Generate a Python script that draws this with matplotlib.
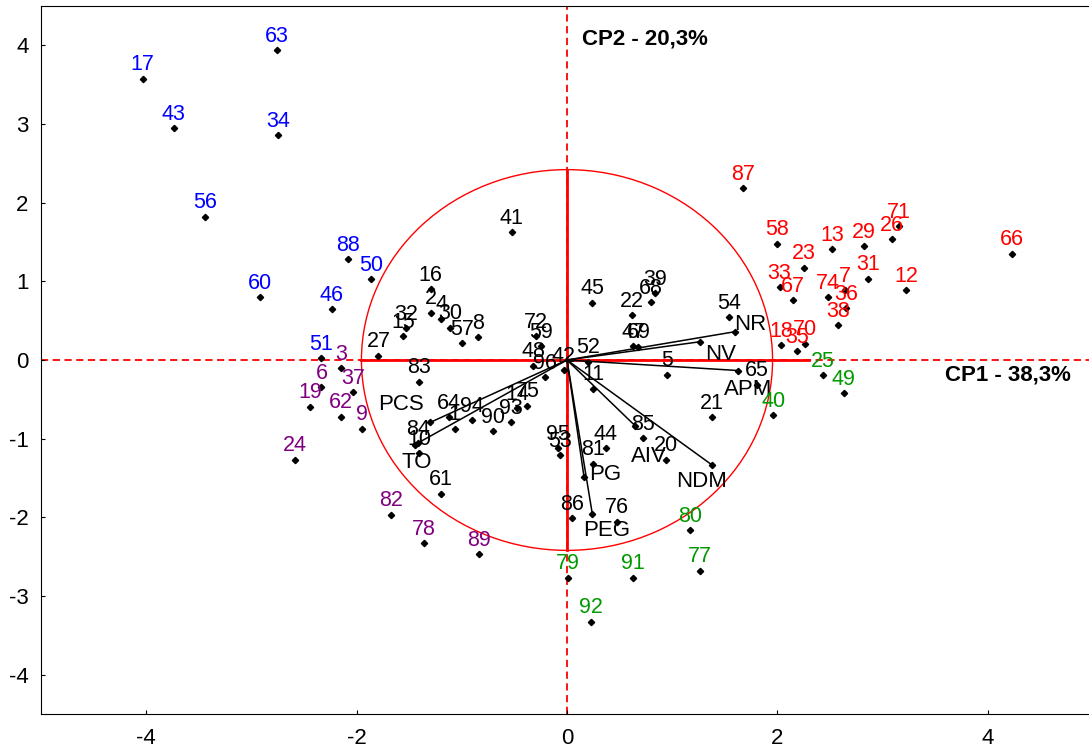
import matplotlib
matplotlib.use("Agg")
import matplotlib.pyplot as plt
from matplotlib.patches import Ellipse

plt.rcParams["font.family"] = ["Liberation Sans", "DejaVu Sans"]
plt.rcParams["axes.unicode_minus"] = False

# Observações por grupo (rótulo, CP1, CP2)
blue_labels = ["17", "63", "43", "34", "56", "60", "88", "50", "46", "51"]
blue_x = [-4.035, -2.755, -3.737, -2.743, -3.442, -2.917, -2.084, -1.859, -2.236, -2.34]
blue_y = [3.577, 3.94, 2.945, 2.856, 1.824, 0.796, 1.284, 1.025, 0.647, 0.023]

purple_labels = ["3", "6", "37", "19", "62", "9", "24", "82", "78", "89"]
purple_x = [-2.144, -2.334, -2.033, -2.445, -2.15, -1.951, -2.584, -1.669, -1.359, -0.836]
purple_y = [-0.108, -0.342, -0.405, -0.592, -0.72, -0.873, -1.268, -1.968, -2.329, -2.465]

red_labels = ["87", "58", "13", "29", "26", "71", "66", "23", "33", "67",
              "74", "7", "36", "31", "12", "38", "18", "70", "35"]
red_x = [1.672, 1.998, 2.521, 2.819, 3.085, 3.157, 4.228, 2.255, 2.021, 2.147,
         2.48, 2.644, 2.654, 2.86, 3.221, 2.575, 2.036, 2.258, 2.188]
red_y = [2.185, 1.48, 1.408, 1.446, 1.535, 1.701, 1.353, 1.174, 0.928, 0.762,
         0.8, 0.889, 0.656, 1.034, 0.885, 0.439, 0.185, 0.206, 0.112]

green_labels = ["25", "49", "40", "80", "77", "79", "91", "92"]
green_x = [2.432, 2.632, 1.96, 1.166, 1.261, 0.01, 0.627, 0.225]
green_y = [-0.197, -0.418, -0.703, -2.159, -2.678, -2.767, -2.767, -3.327]

black_labels = ["41", "16", "2", "4", "30", "57", "8", "32", "15", "27",
                "83", "72", "59", "48", "96", "42", "52", "45", "22", "39",
                "68", "47", "69", "5", "11", "54", "65", "21", "85", "20",
                "44", "81", "86", "76", "64", "1", "94", "90", "93", "14",
                "75", "84", "10", "61", "95", "53"]
black_x = [-0.525, -1.295, -1.295, -1.194, -1.112, -1.0, -0.849, -1.527, -1.561, -1.793,
           -1.403, -0.297, -0.25, -0.323, -0.212, -0.029, 0.198, 0.241, 0.614, 0.836,
           0.801, 0.63, 0.678, 0.947, 0.25, 1.539, 1.805, 1.375, 0.722, 0.938,
           0.367, 0.245, 0.051, 0.472, -1.121, -1.067, -0.903, -0.703, -0.529, -0.472,
           -0.377, -1.418, -1.406, -1.2, -0.083, -0.07]
black_y = [1.628, 0.898, 0.601, 0.525, 0.41, 0.214, 0.29, 0.401, 0.303, 0.057,
           -0.274, 0.299, 0.172, -0.07, -0.219, -0.13, -0.02, 0.728, 0.567, 0.847,
           0.736, 0.176, 0.168, -0.185, -0.363, 0.545, -0.312, -0.724, -0.996, -1.268,
           -1.119, -1.318, -2.01, -2.053, -0.724, -0.873, -0.762, -0.907, -0.792, -0.609,
           -0.58, -1.06, -1.182, -1.701, -1.118, -1.213]

# Variáveis (vetores)
var_names = ["NR", "NV", "APM", "NDM", "AIV", "PG", "PEG", "PCS", "TO"]
var_x = [1.593, 1.264, 1.628, 1.375, 0.646, 0.162, 0.241, -1.298, -1.445]
var_y = [0.359, 0.232, -0.134, -1.331, -0.834, -1.488, -1.959, -0.792, -1.076]
# deslocamento dos rótulos das variáveis (pontos)
var_dx = [11.5, 15, 7, -7, 10, 15, 10, -21, 1]
var_dy = [5, -9.5, -13.5, -12, -22, 1.5, -11.5, 13, -12.5]

groups = [
    (blue_labels, blue_x, blue_y, "#0000ff"),
    (purple_labels, purple_x, purple_y, "#800080"),
    (red_labels, red_x, red_y, "#ff0000"),
    (green_labels, green_x, green_y, "#009900"),
    (black_labels, black_x, black_y, "black"),
]

fig = plt.figure(figsize=(10.89, 7.49), dpi=100)
ax = fig.add_axes([41 / 1089, 1 - 714 / 749, (1093 - 41) / 1089, (714 - 6) / 749])

ax.set_xlim(-5, 5)
ax.set_ylim(-4.5, 4.5)

# Eixos tracejados
ax.axhline(0, color="red", lw=1.3, ls=(0, (4, 2.5)), zorder=1)
ax.axvline(0, color="red", lw=1.3, ls=(0, (4, 2.5)), zorder=1)

# Círculo de correlação e eixos sólidos
ax.add_patch(Ellipse((0, 0), 3.908, 4.84, fill=False, ec="red", lw=1, zorder=1))
ax.plot([-1.954, 2.3], [0, 0], color="red", lw=2, zorder=1)
ax.plot([0, 0], [-2.42, 2.42], color="red", lw=2, zorder=1)

# Vetores das variáveis
for i in range(len(var_names)):
    ax.plot([0, var_x[i]], [0, var_y[i]], color="black", lw=1.1, zorder=2)
ax.plot(var_x, var_y, "D", color="black", ms=3.2, zorder=3)
for i in range(len(var_names)):
    ax.annotate(var_names[i], (var_x[i], var_y[i]), xytext=(var_dx[i], var_dy[i]),
                textcoords="offset points", ha="center", va="center",
                fontsize=16, color="black", zorder=4)

# Observações
for labels, xs, ys, color in groups:
    ax.plot(xs, ys, "D", color="black", ms=3.2, zorder=3)
    for lab, x, y in zip(labels, xs, ys):
        ax.annotate(lab, (x, y), xytext=(0, 6), textcoords="offset points",
                    ha="center", va="baseline", fontsize=15.5, color=color, zorder=4)

ax.text(0.139, 4.08, "CP2 - 20,3%", fontsize=16, fontweight="bold", ha="left", va="center")
ax.text(3.59, -0.19, "CP1 - 38,3%", fontsize=16, fontweight="bold", ha="left", va="center")

ax.set_xticks([-4, -2, 0, 2, 4])
ax.set_yticks([-4, -3, -2, -1, 0, 1, 2, 3, 4])
ax.tick_params(axis="both", direction="in", length=3, labelsize=16)
ax.tick_params(axis="x", pad=10)
ax.tick_params(axis="y", pad=9)

fig.savefig("out.png", dpi=100)
